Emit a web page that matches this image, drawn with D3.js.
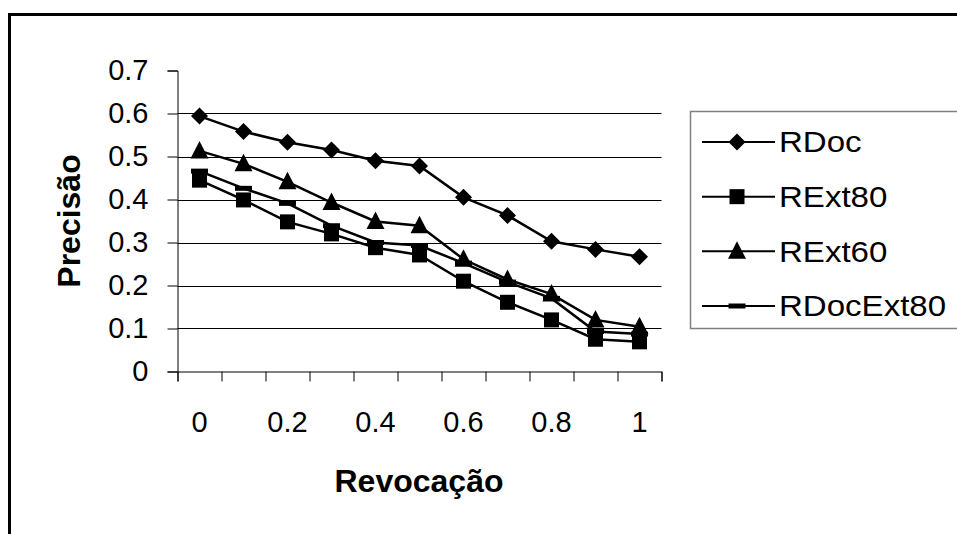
<!DOCTYPE html>
<html>
<head>
<meta charset="utf-8">
<script src="https://cdn.jsdelivr.net/npm/d3@7"></script>
<style>
  body { margin: 0; background: #fff; }
  svg { display: block; font-family: "Liberation Sans", Arial, sans-serif; }
</style>
</head>
<body>
<svg id="chart" width="957" height="534"></svg>
<script>
// categories (recall levels) and tick labels
const categories = ["0", "0.1", "0.2", "0.3", "0.4", "0.5", "0.6", "0.7", "0.8", "0.9", "1"];
const yTicks = [0, 0.1, 0.2, 0.3, 0.4, 0.5, 0.6, 0.7];

// precision values
const rDoc = [0.594, 0.558, 0.533, 0.515, 0.490, 0.478, 0.405, 0.363, 0.303, 0.284, 0.267];
const rExt80 = [0.445, 0.399, 0.348, 0.320, 0.288, 0.271, 0.210, 0.161, 0.120, 0.075, 0.069];
const rExt60 = [0.513, 0.483, 0.441, 0.393, 0.349, 0.339, 0.261, 0.214, 0.180, 0.120, 0.104];
const rDocExt80 = [0.466, 0.426, 0.391, 0.339, 0.300, 0.293, 0.252, 0.208, 0.170, 0.093, 0.087];

const seriesNames = ["RDoc", "RExt80", "RExt60", "RDocExt80"];
const seriesValues = [rDoc, rExt80, rExt60, rDocExt80];
const seriesMarkers = ["diamond", "square", "triangle", "dash"];

const svg = d3.select('#chart');

// outer chart frame
svg.append('rect')
    .attr('x', 9.5).attr('y', 14.5)
    .attr('width', 970).attr('height', 540)
    .attr('fill', 'none')
    .attr('stroke', '#000')
    .attr('stroke-width', 3);

const plot = { left: 177.5, right: 661.5, top: 70.5, bottom: 371.5 };

const x = d3.scaleBand()
    .domain(categories)
    .range([plot.left, plot.right])
    .padding(0);

const xEdge = d3.scaleLinear()
    .domain([0, categories.length])
    .range([plot.left, plot.right]);

const y = d3.scaleLinear()
    .domain([0, 0.7])
    .range([plot.bottom, plot.top]);

// horizontal gridlines (none at the top value)
svg.append('g')
    .selectAll('line')
    .data(yTicks.filter(d => d > 0 && d < 0.7))
    .enter()
    .append('line')
    .attr('x1', plot.left).attr('x2', plot.right)
    .attr('y1', d => Math.round(y(d)) + 0.5)
    .attr('y2', d => Math.round(y(d)) + 0.5)
    .attr('stroke', '#000')
    .attr('stroke-width', 1);

// y axis
const yAxis = svg.append('g')
    .attr('transform', `translate(${plot.left},0)`)
    .call(d3.axisLeft(y).tickValues(yTicks).tickSize(10).tickPadding(19).tickFormat(d => String(d)));

// x axis: tick marks on category edges
const xAxis = svg.append('g')
    .attr('transform', `translate(0,${plot.bottom})`)
    .call(d3.axisBottom(xEdge).tickValues(d3.range(categories.length + 1)).tickSize(10).tickFormat(''));

// x labels on every other category
const xLabels = svg.append('g')
    .attr('transform', `translate(0,${plot.bottom})`)
    .call(d3.axisBottom(x).tickSize(0).tickPadding(40).tickFormat((d, i) => i % 2 === 0 ? d : ''));
xLabels.select('.domain').remove();

[yAxis, xAxis, xLabels].forEach(g => {
    g.selectAll('.domain').attr('stroke', '#000').attr('stroke-width', 1);
    g.selectAll('.tick line').attr('stroke', '#000').attr('stroke-width', 1);
    g.selectAll('text')
        .attr('font-family', '"Liberation Sans", Arial, sans-serif')
        .attr('font-size', 29)
        .attr('fill', '#000');
});

// axis titles
svg.append('text')
    .attr('x', 419).attr('y', 492)
    .attr('text-anchor', 'middle')
    .attr('font-size', 32)
    .attr('font-weight', 'bold')
    .text('Revocação');

svg.append('text')
    .attr('transform', `translate(80,${(plot.top + plot.bottom) / 2}) rotate(-90)`)
    .attr('text-anchor', 'middle')
    .attr('font-size', 32)
    .attr('font-weight', 'bold')
    .text('Precisão');

// marker shapes, k scales the size
const markerPath = (type, k) => {
    if (type === 'diamond') {
        const w = 8.5 * k, h = 8.5 * k;
        return `M0,${-h}L${w},0L0,${h}L${-w},0Z`;
    }
    if (type === 'square') {
        const s = 7.5 * k;
        return `M${-s},${-s}H${s}V${s}H${-s}Z`;
    }
    if (type === 'triangle') {
        const w = 9 * k;
        return `M0,${-10 * k}L${w},${7.5 * k}H${-w}Z`;
    }
    return `M${-8.5 * k},${-2.5 * k}H${8.5 * k}V${2.5 * k}H${-8.5 * k}Z`;
};

const line = d3.line()
    .x((d, i) => x(categories[i]) + x.bandwidth() / 2)
    .y(d => y(d));

seriesValues.forEach((vals, k) => {
    const g = svg.append('g').attr('class', `series series${k}`);
    g.append('path')
        .datum(vals)
        .attr('d', line)
        .attr('fill', 'none')
        .attr('stroke', '#000')
        .attr('stroke-width', 2.5);
    g.selectAll('.marker')
        .data(vals)
        .enter()
        .append('path')
        .attr('class', 'marker')
        .attr('transform', (d, i) => `translate(${x(categories[i]) + x.bandwidth() / 2},${y(d)})`)
        .attr('d', markerPath(seriesMarkers[k], 1))
        .attr('fill', '#000');
});

// legend
const legend = svg.append('g');
legend.append('rect')
    .attr('x', 690.5).attr('y', 111.5)
    .attr('width', 300).attr('height', 217)
    .attr('fill', '#fff')
    .attr('stroke', '#808080')
    .attr('stroke-width', 1.5);

const legendY = d3.scalePoint()
    .domain(seriesNames)
    .range([142, 306]);

seriesNames.forEach((name, k) => {
    const ly = legendY(name);
    legend.append('line')
        .attr('x1', 702).attr('x2', 775)
        .attr('y1', ly).attr('y2', ly)
        .attr('stroke', '#000')
        .attr('stroke-width', 2);
    legend.append('path')
        .attr('transform', `translate(737,${ly})`)
        .attr('d', markerPath(seriesMarkers[k], 1))
        .attr('fill', '#000');
    legend.append('text')
        .attr('transform', `translate(779,${ly}) scale(1.14,1)`)
        .attr('dy', '0.36em')
        .attr('font-size', 29)
        .text(name);
});
</script>
</body>
</html>
